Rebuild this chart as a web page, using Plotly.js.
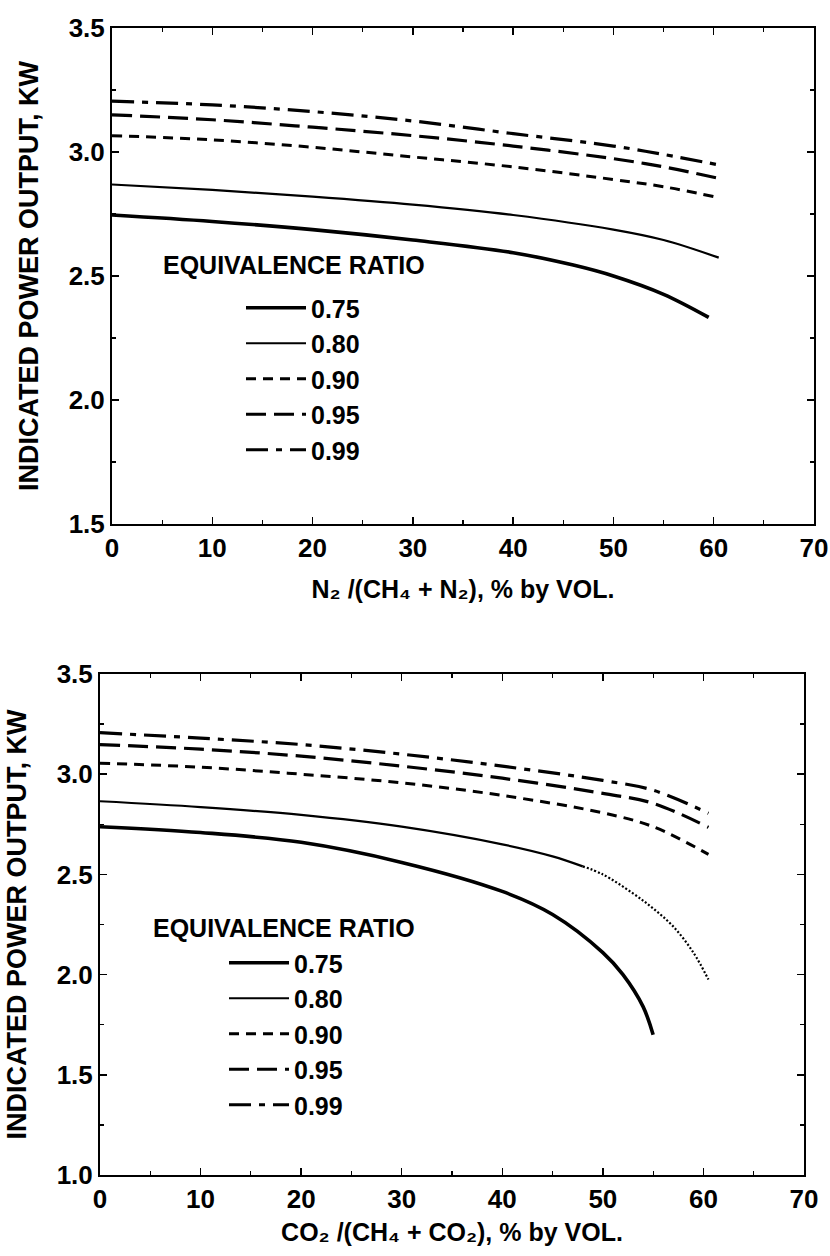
<!DOCTYPE html>
<html><head><meta charset="utf-8">
<script src="https://cdn.plot.ly/plotly-3.0.1.min.js"></script>
<style>body{margin:0;background:#fff}#chart{width:830px;height:1256px}</style>
</head><body><div id="chart"></div>
<script>
// ---------- DATA ----------
const ratioLabels = ['0.75', '0.80', '0.90', '0.95', '0.99'];

// Top panel: N2 /(CH4 + N2), % by vol.
const n2_x_075 = [0, 10, 20, 30, 40, 46, 50, 55, 59.5];
const n2_y_075 = [2.746, 2.72, 2.687, 2.645, 2.594, 2.544, 2.50, 2.426, 2.333];
const n2_x_080 = [0, 10, 20, 30, 40, 50, 55, 60.5];
const n2_y_080 = [2.869, 2.847, 2.82, 2.788, 2.746, 2.687, 2.645, 2.574];
const n2_x_090 = [0, 10, 20, 30, 40, 50, 55, 60];
const n2_y_090 = [3.066, 3.049, 3.019, 2.98, 2.94, 2.889, 2.86, 2.82];
const n2_x_095 = [0, 10, 20, 30, 40, 50, 55, 60.5];
const n2_y_095 = [3.15, 3.13, 3.10, 3.066, 3.024, 2.973, 2.94, 2.894];
const n2_x_099 = [0, 10, 20, 30, 40, 50, 55, 60.5];
const n2_y_099 = [3.205, 3.19, 3.163, 3.125, 3.074, 3.024, 2.99, 2.948];

// Bottom panel: CO2 /(CH4 + CO2), % by vol.
const co2_x_075 = [0, 10, 20, 30, 40, 45, 50, 52, 54, 55];
const co2_y_075 = [2.738, 2.709, 2.66, 2.56, 2.415, 2.30, 2.11, 2.00, 1.84, 1.70];
const co2_x_080 = [0, 10, 20, 30, 40, 45, 48, 50, 53, 55, 57, 59, 60.5];
const co2_y_080 = [2.865, 2.836, 2.797, 2.738, 2.65, 2.59, 2.54, 2.50, 2.405, 2.33, 2.24, 2.11, 1.975];
const co2_x_090 = [0, 10, 20, 30, 40, 50, 55, 60.5];
const co2_y_090 = [3.055, 3.035, 3.00, 2.957, 2.894, 2.807, 2.738, 2.60];
const co2_x_095 = [0, 10, 20, 30, 40, 50, 55, 60.5];
const co2_y_095 = [3.148, 3.125, 3.09, 3.04, 2.98, 2.904, 2.855, 2.735];
const co2_x_099 = [0, 10, 20, 30, 40, 50, 55, 60.5];
const co2_y_099 = [3.207, 3.18, 3.148, 3.10, 3.04, 2.969, 2.92, 2.805];
const co2_080_dottedFrom = 6; // index where the 0.80 curve turns dotted in the scan

const n2Title = 'N\u2082 /(CH\u2084 + N\u2082), % by VOL.';
const co2Title = 'CO\u2082 /(CH\u2084 + CO\u2082), % by VOL.';
const yTitle = 'INDICATED POWER OUTPUT, KW';
const legendTitle = 'EQUIVALENCE RATIO';

// ---------- STYLE ----------
const FONT = 'Liberation Sans, Arial, Helvetica, DejaVu Sans, sans-serif';
const lineStyles = [
  {width: 3.6, dash: 'solid'},
  {width: 2.2, dash: 'solid'},
  {width: 3, dash: '10px,7px'},
  {width: 3.2, dash: '20px,8px'},
  {width: 3.2, dash: '22px,8px,6px,8px'}
];

function mk(x, y, i, xa, ya, leg, show) {
  return {
    x: x, y: y, type: 'scatter', mode: 'lines', name: ratioLabels[i],
    xaxis: xa, yaxis: ya, legend: leg, legendgroup: leg + i, showlegend: show,
    line: {color: '#000', width: lineStyles[i].width, dash: lineStyles[i].dash, shape: 'spline', smoothing: 1},
    hoverinfo: 'skip'
  };
}

const traces = [
  mk(n2_x_075, n2_y_075, 0, 'x', 'y', 'legend', true),
  mk(n2_x_080, n2_y_080, 1, 'x', 'y', 'legend', true),
  mk(n2_x_090, n2_y_090, 2, 'x', 'y', 'legend', true),
  mk(n2_x_095, n2_y_095, 3, 'x', 'y', 'legend', true),
  mk(n2_x_099, n2_y_099, 4, 'x', 'y', 'legend', true),
  mk(co2_x_075, co2_y_075, 0, 'x2', 'y2', 'legend2', true),
  mk(co2_x_080.slice(0, co2_080_dottedFrom + 1), co2_y_080.slice(0, co2_080_dottedFrom + 1), 1, 'x2', 'y2', 'legend2', true),
  mk(co2_x_090, co2_y_090, 2, 'x2', 'y2', 'legend2', true),
  mk(co2_x_095, co2_y_095, 3, 'x2', 'y2', 'legend2', true),
  mk(co2_x_099, co2_y_099, 4, 'x2', 'y2', 'legend2', true)
];
const dotted = mk(co2_x_080.slice(co2_080_dottedFrom), co2_y_080.slice(co2_080_dottedFrom), 1, 'x2', 'y2', 'legend2', false);
dotted.line.dash = '2px,2px';
dotted.line.width = 2.2;
traces.push(dotted);

const W = 830, H = 1256;
const px = v => v / W, py = v => 1 - v / H;

const tickFont = {family: FONT, size: 26, color: '#000', weight: 'bold'};
const yTitleFont = {family: FONT, size: 27, color: '#000', weight: 'bold'};
const xTitleFont = {family: FONT, size: 25, color: '#000', weight: 'bold'};
const legFont = {family: FONT, size: 25, color: '#000', weight: 'bold'};

function xAxis(domain, anchor, title, standoff) {
  return {
    domain: domain, anchor: anchor, range: [0, 70], dtick: 10, tick0: 0,
    showline: true, linecolor: '#000', linewidth: 2, mirror: 'ticks',
    ticks: 'inside', ticklen: 7, tickwidth: 1.5, tickcolor: '#000',
    minor: {dtick: 5, ticks: 'inside', ticklen: 4, tickwidth: 1.2, tickcolor: '#000'},
    showgrid: false, zeroline: false, tickfont: tickFont, ticklabeloverflow: 'allow',
    title: {text: title, font: xTitleFont, standoff: standoff}
  };
}
function yAxis(domain, anchor, range) {
  return {
    domain: domain, anchor: anchor, range: range, dtick: 0.5, tick0: 1,
    tickformat: '.1f',
    showline: true, linecolor: '#000', linewidth: 2, mirror: 'ticks',
    ticks: 'inside', ticklen: 7, tickwidth: 1.5, tickcolor: '#000',
    minor: {dtick: 0.25, ticks: 'inside', ticklen: 4, tickwidth: 1.2, tickcolor: '#000'},
    showgrid: false, zeroline: false, tickfont: tickFont,
    title: {text: yTitle, font: yTitleFont, standoff: 22}
  };
}

const layout = {
  width: W, height: H, margin: {l: 0, r: 0, t: 0, b: 0},
  paper_bgcolor: '#fff', plot_bgcolor: '#fff', font: {family: FONT, color: '#000'},
  xaxis: xAxis([px(112), px(814)], 'y', n2Title, 18),
  yaxis: yAxis([py(524), py(28)], 'x', [1.5, 3.5]),
  xaxis2: xAxis([px(100), px(804)], 'y2', co2Title, 10),
  yaxis2: yAxis([py(1175), py(674)], 'x2', [1.0, 3.5]),
  legend: {x: px(241), xanchor: 'left', y: py(285), yanchor: 'top', font: legFont,
           tracegroupgap: 0, bgcolor: 'rgba(0,0,0,0)', borderwidth: 0, itemwidth: 60},
  legend2: {x: px(224), xanchor: 'left', y: py(940), yanchor: 'top', font: legFont,
            tracegroupgap: 0, bgcolor: 'rgba(0,0,0,0)', borderwidth: 0, itemwidth: 60},
  annotations: [
    {text: legendTitle, xref: 'paper', yref: 'paper', x: px(161), y: py(265),
     xanchor: 'left', yanchor: 'middle', showarrow: false, font: legFont},
    {text: legendTitle, xref: 'paper', yref: 'paper', x: px(151), y: py(928),
     xanchor: 'left', yanchor: 'middle', showarrow: false, font: legFont}
  ]
};

Plotly.newPlot('chart', traces, layout, {staticPlot: true, displayModeBar: false});
</script>
</body></html>
